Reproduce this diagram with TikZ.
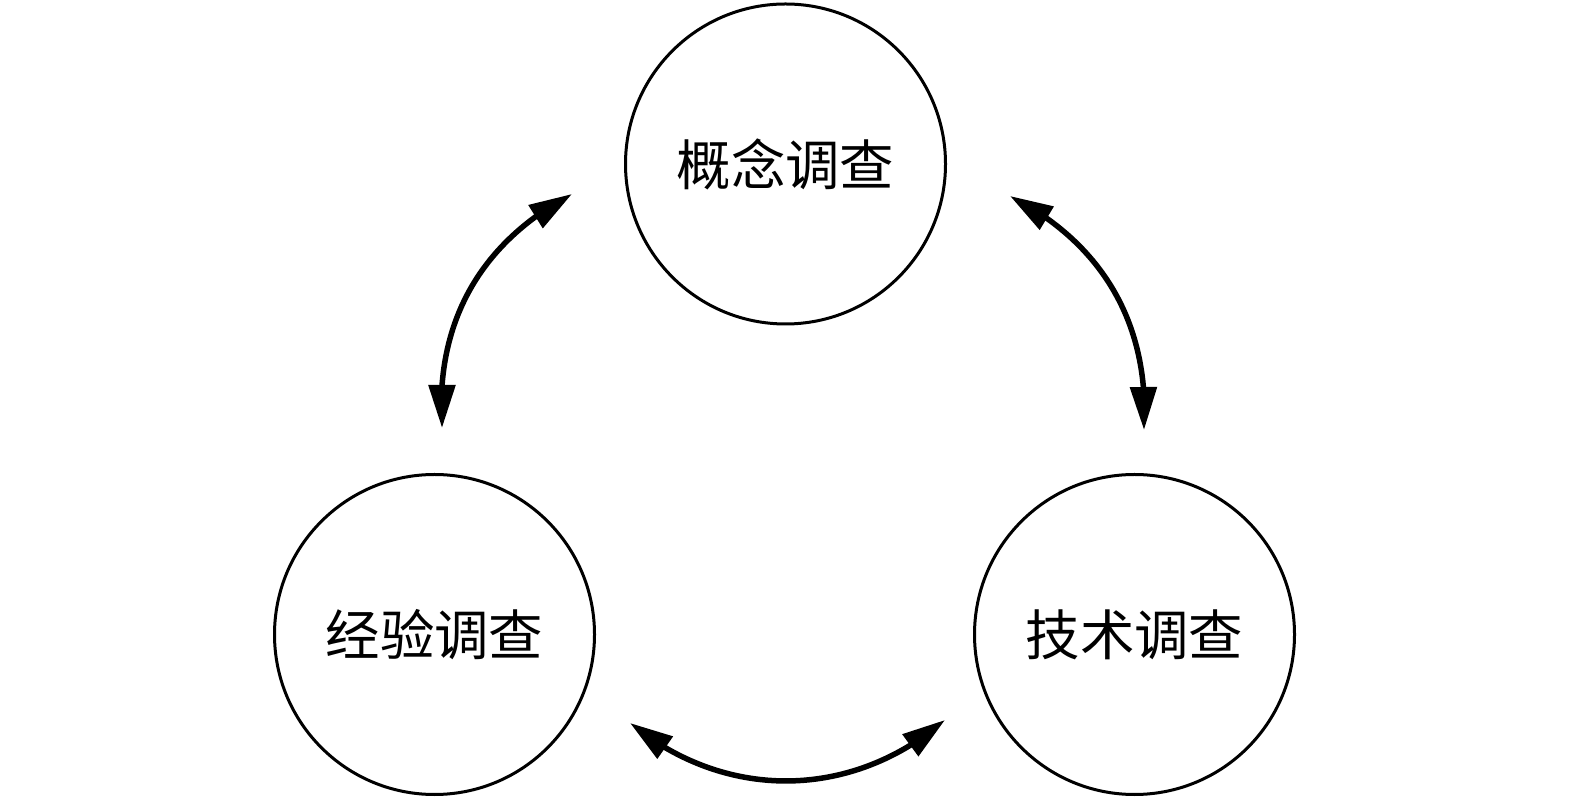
\documentclass[tikz,border=0pt]{standalone}
\usepackage{fontspec}
\newfontfamily\cjk{Noto Sans CJK SC}
\usetikzlibrary{arrows.meta,bending}
\begin{document}
\begin{tikzpicture}[
		survey/.style = {draw, circle, line width = 0.6mm, minimum size = 6.4cm, inner sep = 0pt, font = \cjk\fontsize{31}{37}\selectfont},
		link/.style = {line width = 1.1mm, {Triangle[length=0.86cm, width=0.52cm, flex]}-{Triangle[length=0.86cm, width=0.52cm, flex]}}
	]
	\useasboundingbox (0,0) rectangle (31.5,16.08);
	
	\node[survey] (concept) at (15.71,12.8) {概念调查};
	\node[survey] (empiric) at (8.69,3.39) {经验调查};
	\node[survey] (technic) at (22.69,3.39) {技术调查};
	
	% free ends of the arrows
	\coordinate (ce1) at (11.44,12.2);
	\coordinate (ce2) at (8.84,7.52);
	\coordinate (ct1) at (20.2,12.16);
	\coordinate (ct2) at (22.88,7.48);
	\coordinate (et1) at (12.6,1.62);
	\coordinate (et2) at (18.9,1.68);
	
	\draw[link] (ce1) to[bend right=33] (ce2);
	\draw[link] (ct1) to[bend left=33] (ct2);
	\draw[link] (et1) to[bend right=40] (et2);
\end{tikzpicture}
\end{document}
